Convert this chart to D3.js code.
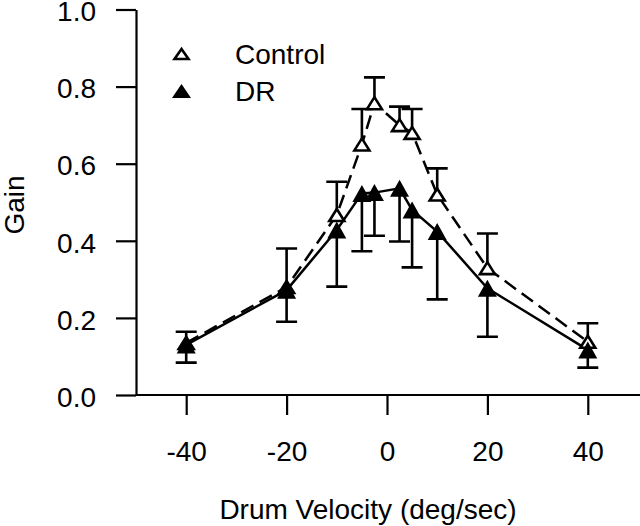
<!DOCTYPE html>
<html>
<head>
<meta charset="utf-8">
<script src="https://cdn.jsdelivr.net/npm/d3@7"></script>
<style>
  html, body { margin: 0; padding: 0; background: #fff; }
  svg { display: block; }
  text { font-family: "Liberation Sans", Arial, Helvetica, sans-serif; fill: #000; }
</style>
</head>
<body>
<svg id="chart" width="640" height="526"></svg>
<script>
// ---- data ----
const velocity = [-40, -20, -10, -5, -2.5, 2.5, 5, 10, 20, 40];
const controlGain = [0.135, 0.28, 0.467, 0.65, 0.757, 0.70, 0.68, 0.52, 0.329, 0.138];
const controlErr  = [0.029, 0.10, 0.086, 0.092, 0.067, 0.048, 0.062, 0.068, 0.09, 0.048];
const drGain = [0.13, 0.272, 0.428, 0.523, 0.525, 0.536, 0.48, 0.424, 0.277, 0.117];
const drErr  = [0.046, 0.082, 0.147, 0.15, 0.112, 0.138, 0.149, 0.176, 0.126, 0.046];
const xTicks = [-40, -20, 0, 20, 40];
const yTicks = [0, 0.2, 0.4, 0.6, 0.8, 1.0];
const seriesNames = ["Control", "DR"];
const xTitle = "Drum Velocity (deg/sec)";
const yTitle = "Gain";

// ---- layout ----
const svg = d3.select("#chart");
const x = d3.scaleLinear().domain([-50, 50]).range([136, 638]);
const y = d3.scaleLinear().domain([0, 1]).range([395, 9.5]);
const FONT = 28;

// axes
const yAxis = d3.axisLeft(y).tickValues(yTicks).tickFormat(d3.format(".1f"))
  .tickSize(20).tickSizeOuter(0).tickPadding(20);
const gy = svg.append("g").attr("transform", `translate(${x.range()[0]},0)`).call(yAxis);
gy.selectAll(".tick text").attr("dy", "0.4em");

const xAxis = d3.axisBottom(x).tickValues(xTicks).tickFormat(d => String(d))
  .tickSize(20).tickSizeOuter(0).tickPadding(26);
const gx = svg.append("g").attr("transform", `translate(0,${y(0)})`).call(xAxis);

[gx, gy].forEach(g => {
  g.select(".domain").attr("stroke", "#000").attr("stroke-width", 2.2);
  g.selectAll(".tick line").attr("stroke", "#000").attr("stroke-width", 2.2);
  g.selectAll(".tick text").attr("font-size", FONT)
    .attr("font-family", "'Liberation Sans', Arial, sans-serif").attr("fill", "#000");
});
// extend x axis line to the right edge
gx.select(".domain").attr("d", `M${x.range()[0]},0H640`);

// titles
svg.append("text").attr("x", 368).attr("y", 519).attr("text-anchor", "middle")
  .attr("font-size", FONT).text(xTitle);
svg.append("text").attr("transform", "translate(24,205) rotate(-90)")
  .attr("text-anchor", "middle").attr("font-size", FONT).text(yTitle);

// data helpers
const control = velocity.map((v, i) => ({ v, g: controlGain[i], e: controlErr[i] }));
const dr = velocity.map((v, i) => ({ v, g: drGain[i], e: drErr[i] }));
const line = d3.line().x(d => x(d.v)).y(d => y(d.g));
const tri = (w, h) => `M0,${-h / 2}L${w / 2},${h / 2}L${-w / 2},${h / 2}Z`;

const plot = svg.append("g");
// lines
plot.append("path").datum(control).attr("d", line).attr("fill", "none")
  .attr("stroke", "#000").attr("stroke-width", 2.5).attr("stroke-dasharray", "14,7");
plot.append("path").datum(dr).attr("d", line).attr("fill", "none")
  .attr("stroke", "#000").attr("stroke-width", 2.5);

// error bars: control upward, DR downward
const CAP = 10.5;
function bars(data, dir) {
  const g = plot.append("g").attr("stroke", "#000").attr("stroke-width", 2.6);
  g.selectAll("path").data(data).join("path")
    .attr("fill", "none")
    .attr("d", d => {
      const x0 = x(d.v), y0 = y(d.g), y1 = y(d.g + dir * d.e);
      return `M${x0},${y0}V${y1}M${x0 - CAP},${y1}H${x0 + CAP}`;
    });
}
bars(control, 1);
bars(dr, -1);

// markers
plot.append("g").selectAll("path").data(control).join("path")
  .attr("transform", d => `translate(${x(d.v)},${y(d.g)})`)
  .attr("d", tri(15, 12)).attr("fill", "#fff").attr("stroke", "#000").attr("stroke-width", 2.6)
  .attr("stroke-linejoin", "miter");
plot.append("g").selectAll("path").data(dr).join("path")
  .attr("transform", d => `translate(${x(d.v)},${y(d.g)})`)
  .attr("d", tri(19, 17)).attr("fill", "#000");

// legend
const legend = svg.append("g");
const legendY = [54, 91];
legend.append("path").attr("transform", `translate(181.5,${legendY[0]})`)
  .attr("d", tri(14, 10)).attr("fill", "#fff").attr("stroke", "#000").attr("stroke-width", 2.6);
legend.append("path").attr("transform", `translate(181.5,${legendY[1]})`)
  .attr("d", tri(19, 14)).attr("fill", "#000");
seriesNames.forEach((n, i) => {
  legend.append("text").attr("x", 235).attr("y", legendY[i] + 10)
    .attr("font-size", FONT).text(n);
});
</script>
</body>
</html>
